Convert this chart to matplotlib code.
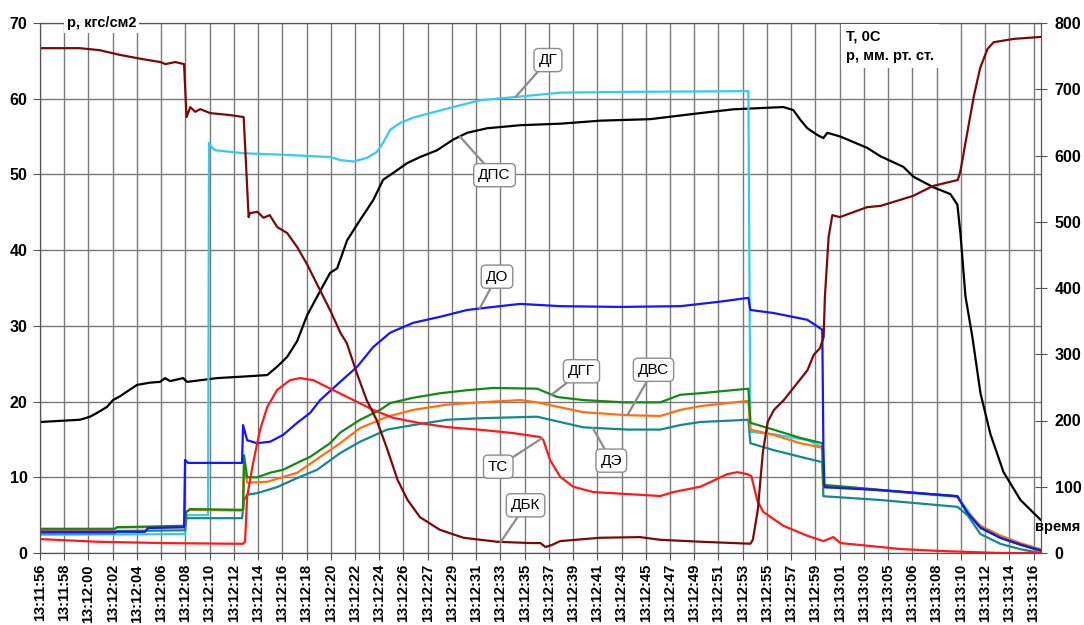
import numpy as np
import matplotlib.pyplot as plt

plt.rcParams['font.family'] = ['Liberation Sans', 'DejaVu Sans']

time_labels = ['13:11:56', '13:11:58', '13:12:00', '13:12:02', '13:12:04', '13:12:06',
               '13:12:08', '13:12:10', '13:12:12', '13:12:14', '13:12:16', '13:12:18',
               '13:12:20', '13:12:22', '13:12:24', '13:12:26', '13:12:27', '13:12:29',
               '13:12:31', '13:12:33', '13:12:35', '13:12:37', '13:12:39', '13:12:41',
               '13:12:43', '13:12:45', '13:12:47', '13:12:49', '13:12:51', '13:12:53',
               '13:12:55', '13:12:57', '13:12:59', '13:13:01', '13:13:03', '13:13:05',
               '13:13:06', '13:13:08', '13:13:10', '13:13:12', '13:13:14', '13:13:16']
t_span = 80.0  # seconds from first to last label

# left axis, кгс/см2 (t in seconds from 13:11:56)
t_dg = [0, 11.68, 11.84, 13.45, 13.53, 13.61, 13.86, 14.10, 16.35, 19.58, 23.36, 24.17, 25.22,
        26.34, 27.15, 27.63, 28.20, 29.00, 30.05, 31.42, 33.27, 35.45, 38.10, 41.89, 46.72,
        57.04, 57.20, 59.05, 61.79, 62.99, 63.08, 66.06, 70.33, 73.87, 75.73, 77.34, 78.95, 80.56]
dg = [2.4, 2.5, 5.0, 5.0, 5.0, 54.2, 53.5, 53.2, 52.8, 52.6, 52.3, 51.9, 51.7,
      52.2, 53.0, 54.2, 55.9, 56.8, 57.5, 58.1, 58.9, 59.8, 60.2, 60.8, 60.9,
      61.0, 16.0, 15.7, 14.9, 14.0, 8.7, 8.5, 7.9, 7.4, 3.4, 2.1, 1.1, 0.4]

t_dps = [0, 3.22, 4.03, 4.59, 5.40, 5.88, 6.44, 7.81, 8.86, 9.67, 10.07, 10.47, 11.52, 11.84,
         14.26, 16.35, 18.29, 19.09, 19.90, 20.71, 21.51, 22.56, 23.36, 23.93, 24.73, 25.78,
         26.83, 27.63, 28.44, 29.57, 30.61, 31.98, 33.27, 34.40, 36.01, 38.67, 41.89, 45.11,
         49.14, 53.17, 55.83, 59.86, 60.66, 61.23, 61.79, 62.60, 63.08, 63.40, 64.45, 66.62,
         67.67, 69.52, 70.33, 71.94, 73.31, 73.87, 74.12, 74.52, 75.08, 75.73, 76.53, 77.58,
         78.95, 80.56]
dps = [17.3, 17.6, 18.0, 18.5, 19.3, 20.2, 20.7, 22.2, 22.5, 22.6, 23.1, 22.7, 23.1, 22.6,
       23.1, 23.3, 23.5, 24.6, 25.9, 28.0, 31.4, 34.6, 37.0, 37.6, 41.3, 44.0,
       46.6, 49.3, 50.2, 51.5, 52.3, 53.2, 54.6, 55.5, 56.1, 56.5, 56.7, 57.1,
       57.3, 58.1, 58.6, 58.9, 58.5, 57.2, 56.1, 55.2, 54.8, 55.5, 55.0, 53.5,
       52.4, 51.0, 49.7, 48.3, 47.4, 46.0, 42.1, 33.9, 28.5, 21.1, 15.7, 10.7,
       7.0, 4.4]

t_do = [0, 8.46, 8.70, 11.60, 11.68, 11.92, 16.27, 16.35, 16.68, 17.48, 18.53, 19.58, 20.71,
        21.75, 22.56, 24.17, 25.54, 26.83, 28.20, 30.05, 32.22, 34.40, 36.49, 38.67, 41.89,
        46.72, 51.56, 54.78, 57.04, 57.20, 59.05, 61.79, 62.99, 63.08, 63.16, 67.67, 73.87,
        74.68, 75.73, 77.34, 78.95, 80.56]
do = [2.8, 2.8, 3.3, 3.4, 12.3, 11.9, 11.9, 16.9, 14.9, 14.5, 14.7, 15.6, 17.2,
      18.5, 20.2, 22.6, 24.6, 27.2, 29.1, 30.4, 31.2, 32.1, 32.5, 32.9, 32.6,
      32.5, 32.6, 33.2, 33.7, 32.1, 31.7, 30.8, 29.5, 14.0, 8.7, 8.3, 7.5,
      5.3, 3.3, 2.0, 1.1, 0.3]

t_dgg = [0, 6.04, 6.20, 11.68, 11.76, 12.08, 16.35, 16.43, 16.68, 17.48, 18.53, 19.58, 20.71,
         21.75, 23.36, 24.17, 25.78, 27.39, 28.20, 30.05, 32.22, 34.40, 36.49, 40.04, 41.65,
         43.74, 46.97, 49.95, 51.56, 53.17, 57.04, 57.20, 59.05, 61.23, 62.99, 63.08, 65.25,
         69.28, 73.87, 74.68, 75.73, 77.34, 78.95, 80.56]
dgg = [3.2, 3.2, 3.4, 3.6, 5.4, 5.8, 5.7, 12.9, 10.0, 10.0, 10.6, 11.0, 11.9,
       12.7, 14.5, 15.9, 17.6, 18.9, 19.8, 20.5, 21.1, 21.5, 21.8, 21.7, 20.6,
       20.2, 19.9, 19.9, 20.9, 21.1, 21.7, 17.2, 16.3, 15.2, 14.5, 9.0, 8.7,
       8.1, 7.5, 5.3, 3.4, 2.0, 1.1, 0.4]

t_dvs = [0, 5.88, 6.20, 11.68, 11.76, 12.08, 16.35, 16.43, 16.68, 18.29, 20.71, 22.56, 24.17,
         25.78, 27.95, 30.05, 32.79, 35.45, 38.67, 40.04, 43.74, 47.29, 49.95, 51.56, 53.17,
         57.04, 57.20, 59.05, 61.23, 62.99, 63.08, 65.25, 69.28, 73.87, 74.68, 75.73, 77.34,
         78.95, 80.56]
dvs = [3.0, 3.0, 3.4, 3.4, 5.4, 5.7, 5.6, 11.6, 9.3, 9.4, 10.6, 12.7, 14.5,
       16.5, 18.0, 18.9, 19.6, 19.9, 20.2, 19.9, 18.6, 18.2, 18.1, 18.9, 19.4,
       20.1, 16.3, 15.6, 14.5, 13.9, 8.7, 8.6, 8.1, 7.5, 5.3, 3.6, 2.3,
       1.3, 0.5]

t_de = [0, 6.04, 6.20, 11.68, 11.76, 16.27, 16.43, 16.68, 17.48, 19.09, 20.71, 22.32, 24.17,
        25.78, 27.95, 30.05, 32.79, 35.45, 40.04, 43.74, 47.29, 49.95, 51.56, 53.17, 57.04,
        57.20, 59.05, 61.23, 62.99, 63.08, 67.67, 73.87, 74.68, 75.73, 77.34, 78.95, 80.56]
de = [2.6, 2.6, 2.9, 3.0, 4.6, 4.6, 7.0, 7.7, 7.9, 8.7, 9.9, 11.0, 13.2,
      14.7, 16.3, 16.9, 17.6, 17.8, 18.0, 16.6, 16.3, 16.3, 16.9, 17.3, 17.6,
      14.5, 13.6, 12.7, 12.0, 7.5, 7.0, 6.1, 5.0, 2.5, 1.2, 0.5, 0.0]

# right axis, Т °С / мм рт. ст.
t_ts = [0, 4.59, 9.91, 15.31, 16.35, 16.51, 16.68, 17.16, 17.72, 18.29, 19.09, 20.14, 20.95,
        21.99, 23.60, 25.22, 26.83, 28.44, 30.61, 32.79, 35.45, 38.10, 40.28, 40.52, 41.08,
        41.89, 42.94, 44.55, 47.29, 49.95, 51.00, 53.17, 55.34, 56.15, 56.96, 57.28, 57.76,
        58.24, 59.86, 61.79, 63.08, 63.88, 64.45, 66.62, 69.28, 72.50, 74.92, 77.34, 80.56]
ts = [21, 17, 15, 14, 14, 17, 85, 136, 186, 220, 246, 261, 264,
      261, 246, 231, 216, 204, 196, 190, 186, 181, 175, 171, 140,
      115, 100, 92, 89, 86, 92, 100, 119, 122, 119, 116, 79,
      62, 41, 26, 18, 24, 15, 11, 6, 3, 1.5, 0, 0]

t_dbk = [0, 3.2, 4.8, 6.4, 8.1, 9.7, 10.1, 10.9, 11.6, 11.8, 12.1, 12.5, 12.9, 13.7, 15.3,
         16.4, 16.8, 16.9, 17.5, 18.0, 18.5, 19.1, 19.9, 20.7, 21.5, 22.3, 23.4, 24.2, 24.7,
         25.5, 26.3, 27.1, 27.9, 28.8, 29.6, 30.6, 32.2, 34.1, 36.8, 39.5, 40.3, 40.7, 41.2,
         41.9, 45.1, 48.3, 49.9, 53.2, 57.2, 57.4, 57.8, 58.2, 58.6, 59.1, 59.9, 61.0, 61.8,
         62.3, 62.8, 63.1, 63.2, 63.5, 63.8, 64.4, 66.6, 67.7, 70.3, 71.9, 73.9, 74.1, 74.7,
         75.2, 75.7, 76.3, 76.8, 78.4, 80.6]
dbk = [762, 762, 759, 752, 746, 741, 738, 741, 738, 658, 673, 666, 670, 664, 661,
       658, 507, 513, 515, 506, 510, 492, 483, 462, 436, 406, 365, 332, 317,
       272, 231, 201, 160, 110, 80, 54, 35, 23, 17, 15, 15, 9, 12,
       18, 23, 24, 20, 17, 14, 20, 65, 151, 198, 216, 231, 257, 276,
       299, 309, 326, 386, 477, 510, 507, 522, 524, 539, 554, 563, 575, 638,
       690, 732, 761, 771, 776, 779]

fig = plt.figure(figsize=(10.84, 6.25), dpi=100)
ax = fig.add_axes([0.0369, 0.1152, 0.9234, 0.848])
ax2 = ax.twinx()

lw = 1.6
ax.plot(t_dps, dps, color='black', lw=lw)
ax.plot(t_dg, dg, color='#33ccf0', lw=lw)
ax.plot(t_de, de, color='#138a8a', lw=lw)
ax.plot(t_dvs, dvs, color='#ff7010', lw=lw)
ax.plot(t_dgg, dgg, color='#138a13', lw=lw)
ax.plot(t_do, do, color='#1515ff', lw=lw)
ax2.plot(t_ts, ts, color='#ff1a1a', lw=lw)
ax2.plot(t_dbk, dbk, color='#7a0a0a', lw=lw)

ticks = np.arange(len(time_labels)) * t_span / (len(time_labels) - 1)
ax.set_xticks(ticks)
ax.set_xticklabels(time_labels, rotation=90, fontsize=10.5, fontweight='bold')
ax.set_xlim(0, 80.6)
ax.set_ylim(0, 70)
ax.set_yticks(range(0, 71, 10))
ax2.set_ylim(0, 800)
ax2.set_yticks(range(0, 801, 100))
for lab in ax.get_yticklabels() + ax2.get_yticklabels():
    lab.set_fontweight('bold')
    lab.set_fontsize(11.5)

ax.grid(True, color='#7a7a7a', lw=1)
ax.set_axisbelow(True)
ax.tick_params(axis='x', direction='out', length=5, color='#555555', pad=3)
ax.tick_params(axis='y', direction='out', length=5, color='#555555', pad=4)
ax2.tick_params(axis='y', direction='inout', length=8, color='#555555', pad=6)
for a in (ax, ax2):
    for s in a.spines.values():
        s.set_color('#555555')

# callouts
def callout(text, t_anchor, t_arr, v_arr, axis, tx, ty):
    y = np.interp(t_anchor, t_arr, v_arr)
    ax2.annotate(text, xy=(t_anchor, y), xycoords=axis.transData,
                 xytext=(tx, ty), textcoords=ax.transData,
                 ha='center', va='center', fontsize=11, zorder=10,
                 bbox=dict(boxstyle='round,pad=0.3', fc='white', ec='#8c8c8c', lw=1),
                 arrowprops=dict(arrowstyle='-', color='#8c8c8c', lw=1.6,
                                 shrinkA=0, shrinkB=0))

callout('ДГ', 38.3, t_dg, dg, ax, 40.9, 65.1)
callout('ДПС', 33.8, t_dps, dps, ax, 36.6, 49.9)
callout('ДО', 35.4, t_do, do, ax, 36.8, 36.5)
callout('ДГГ', 41.2, t_dgg, dgg, ax, 43.6, 24.0)
callout('ДВС', 47.3, t_dvs, dvs, ax, 49.4, 24.2)
callout('ДЭ', 44.5, t_de, de, ax, 46.0, 12.2)
callout('ТС', 40.4, t_ts, ts, ax2, 36.9, 11.4)
callout('ДБК', 37.1, t_dbk, dbk, ax2, 39.1, 6.3)

ax2.text(0.027, 1.0, 'р, кгс/см2', transform=ax.transAxes, ha='left', va='center',
         fontsize=10.5, fontweight='bold', zorder=11,
         bbox=dict(boxstyle='square,pad=0.2', fc='white', ec='none'))
ax2.text(0.805, 0.988, 'Т, 0С\nр, мм. рт. ст.', transform=ax.transAxes, ha='left', va='top',
         fontsize=10.5, fontweight='bold', linespacing=1.5, zorder=11,
         bbox=dict(boxstyle='square,pad=0.35', fc='white', ec='none'))
ax2.text(1.017, 0.049, 'время', transform=ax.transAxes, ha='center', va='center',
         fontsize=10.5, fontweight='bold', zorder=11)

fig.savefig('out.png', dpi=100)
